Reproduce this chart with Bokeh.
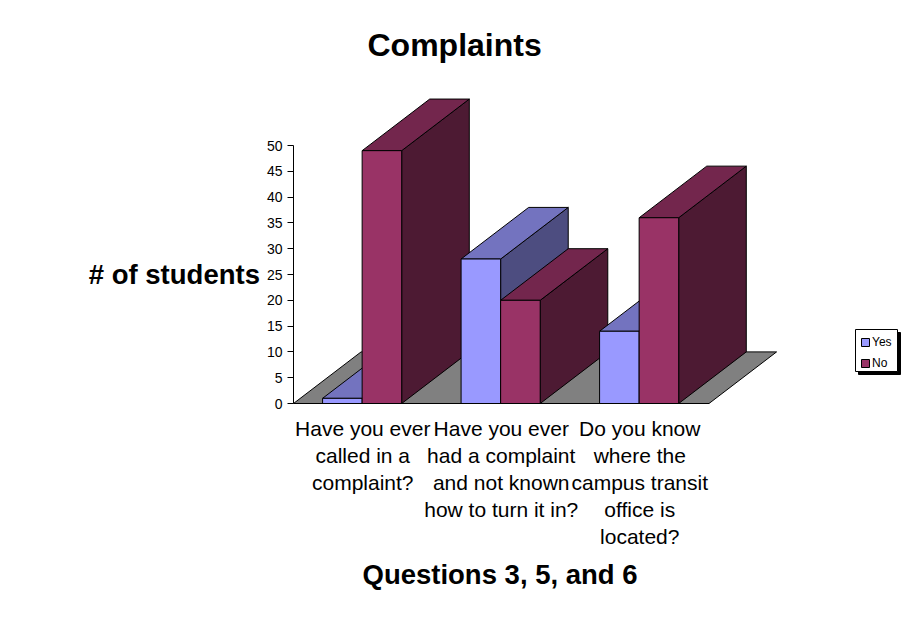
from bokeh.plotting import figure
from bokeh.embed import file_html
from bokeh.resources import INLINE
from bokeh.models import Range1d, FixedTicker, Legend, LegendItem, BoxAnnotation, Title

categories = ["Have you ever\ncalled in a\ncomplaint?",
              "Have you ever\nhad a complaint\nand not known\nhow to turn it in?",
              "Do you know\nwhere the\ncampus transit\noffice is\nlocated?"]
yes_values = [1, 28, 14]
no_values = [49, 20, 36]
y_ticks = [0, 5, 10, 15, 20, 25, 30, 35, 40, 45, 50]
title_text = "Complaints"
y_title = "# of students"
x_title = "Questions 3, 5, and 6"

FONT = "Liberation Sans"
W, H = 903, 615
LEFT, TOP, FRAME_BOTTOM = 293, 70, 403  # frame position in page pixels
CAT_W = 138.5                  # px per category
PX_PER_UNIT = 5.16
DX, DY = 0.488, 10.0           # depth in category units, value units
BAR_W = 0.2856
GAP = 0.21
FLOOR_COLOR = "#808080"
COLORS = {"yes": ("#9999FF", "#7373BF", "#4D4D80"), "no": ("#993366", "#73264D", "#4D1A33")}

p = figure(width=W, height=H, output_backend="svg", toolbar_location=None,
           frame_width=W - LEFT, frame_height=FRAME_BOTTOM - TOP,
           min_border_left=LEFT, min_border_bottom=H - FRAME_BOTTOM, min_border_top=TOP, min_border_right=0,
           x_range=Range1d(0, (W - LEFT) / CAT_W), y_range=Range1d(0, (FRAME_BOTTOM - TOP) / PX_PER_UNIT))
p.outline_line_color = None
p.grid.visible = False
p.background_fill_color = "white"

p.title.text = title_text
p.title.align = "left"
p.title.offset = 74
p.title.standoff = 15
p.title.text_font = FONT
p.title.text_font_size = "32px"
p.title.text_font_style = "bold"
p.title.text_color = "black"

# floor
p.patch([0, 3, 3 + DX, DX], [0, 0, DY, DY], fill_color=FLOOR_COLOR, line_color="black", line_width=1)

def bar(x0, v, key):
    front, top, side = COLORS[key]
    x1 = x0 + BAR_W
    p.patch([x1, x1 + DX, x1 + DX, x1], [0, DY, v + DY, v], fill_color=side, line_color="black", line_width=1)
    p.patch([x0, x1, x1 + DX, x0 + DX], [v, v, v + DY, v + DY], fill_color=top, line_color="black", line_width=1)
    return p.quad(left=[x0], right=[x1], bottom=[0], top=[v], fill_color=front, line_color="black", line_width=1)

r_yes = r_no = None
for i in range(len(categories)):
    r_yes = bar(i + GAP, yes_values[i], "yes")
    r_no = bar(i + GAP + BAR_W, no_values[i], "no")

# axes
yax = p.yaxis[0]
yax.ticker = FixedTicker(ticks=y_ticks)
yax.bounds = (0, 50)
yax.minor_tick_line_color = None
yax.major_tick_in = 0
yax.major_tick_out = 6
yax.major_label_text_font = FONT
yax.major_label_text_font_size = "14px"
yax.major_label_text_color = "black"
yax.major_label_standoff = 5
yax.axis_line_color = "black"
# leading blank lines push the centred label down to the middle of the 0-50 scale
yax.axis_label = "\n\n" + y_title
yax.axis_label_orientation = "horizontal"
yax.axis_label_standoff = 4
yax.axis_label_text_font = FONT
yax.axis_label_text_font_size = "27.5px"
yax.axis_label_text_font_style = "bold"
yax.axis_label_text_color = "black"
yax.axis_label_text_line_height = 1.2

xax = p.xaxis[0]
xax.ticker = FixedTicker(ticks=[0.5, 1.5, 2.5])
xax.major_label_overrides = {0.5: categories[0], 1.5: categories[1], 2.5: categories[2]}
xax.bounds = (0, 3)
xax.minor_tick_line_color = None
xax.major_tick_line_color = None
xax.major_tick_in = 0
xax.major_tick_out = 0
xax.major_label_text_font = FONT
xax.major_label_text_font_size = "21px"
xax.major_label_text_line_height = 1.18
xax.major_label_text_color = "black"
xax.major_label_standoff = 13
xax.axis_line_color = "black"

p.add_layout(Title(text=x_title, align="left", offset=69, standoff=10, text_font=FONT,
                   text_font_size="27.5px", text_font_style="bold", text_color="black"), "below")

# legend box with drop shadow, in data units of the frame
def box(x0, x1, y0, y1, fill):
    p.add_layout(BoxAnnotation(left=(x0 - LEFT) / CAT_W, right=(x1 - LEFT) / CAT_W,
                               top=(FRAME_BOTTOM - y0) / PX_PER_UNIT, bottom=(FRAME_BOTTOM - y1) / PX_PER_UNIT,
                               fill_color=fill, fill_alpha=1, line_color="black", line_width=1, line_alpha=1))

box(858, 900, 332, 374, "black")
box(855, 897, 329, 371, "white")

legend = Legend(items=[LegendItem(label="Yes", renderers=[r_yes]), LegendItem(label="No", renderers=[r_no])],
                location=(860 - LEFT, FRAME_BOTTOM - 370), orientation="vertical",
                glyph_width=10, glyph_height=10, label_standoff=2, spacing=7, padding=5, margin=0,
                border_line_color=None, background_fill_alpha=0,
                label_text_font=FONT, label_text_font_size="12px", label_text_color="black",
                label_height=8, label_width=20)
p.add_layout(legend, "center")

open("out.html", "w").write(file_html(p, INLINE))
